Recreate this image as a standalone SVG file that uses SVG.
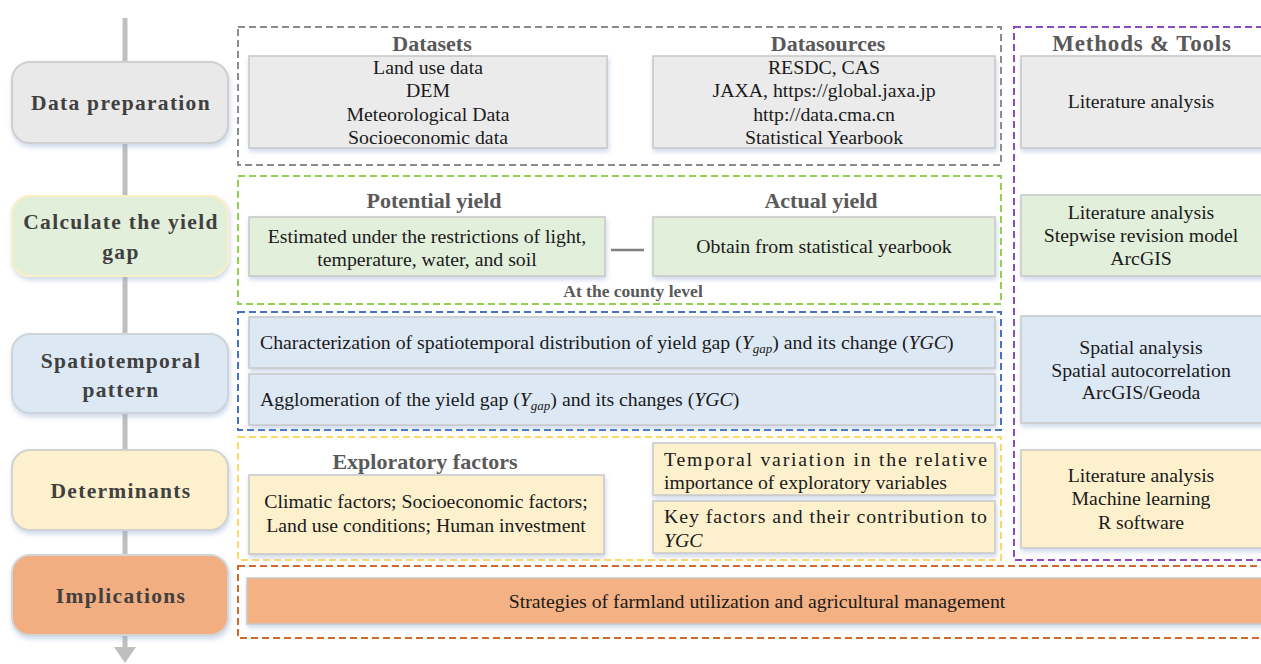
<svg xmlns="http://www.w3.org/2000/svg" width="1261" height="664" viewBox="0 0 1261 664">
<defs>
<filter id="sh" x="-5%" y="-10%" width="110%" height="130%">
<feDropShadow dx="1" dy="3" stdDeviation="2.5" flood-color="#8fa9d0" flood-opacity="0.45"/>
</filter>
<style>
.stage{stroke-width:2;filter:url(#sh)}
.stxt{font-family:"Liberation Serif",serif;font-weight:bold;font-size:21.5px;fill:#404040;letter-spacing:1.3px;text-anchor:middle}
.hdr{font-family:"Liberation Serif",serif;font-weight:bold;font-size:22px;fill:#595959;text-anchor:middle}
.t{font-family:"Liberation Serif",serif;font-size:19.8px;fill:#1a1a1a;text-anchor:middle}
.tl{font-family:"Liberation Serif",serif;font-size:19.8px;fill:#1a1a1a}
.box{stroke:#c8c8c8;stroke-width:1.5;filter:url(#sh)}
.dash{fill:none;stroke-width:2;stroke-dasharray:7 4}
.gray{fill:#ebebeb}.green{fill:#e2efda}.blue{fill:#dde8f5}.yel{fill:#fdf0cd}.org{fill:#f4b183}
</style>
</defs>
<rect width="1261" height="664" fill="#ffffff"/>
<g id="connectors">
<line x1="125" y1="18" x2="125" y2="648" stroke="#bfbfbf" stroke-width="5"/>
<polygon points="114,647 136,647 125,663" fill="#bfbfbf"/>
<line x1="611" y1="250" x2="644" y2="250" stroke="#808080" stroke-width="2.5"/>
</g>
<g id="stage-data">
<rect class="stage" x="12" y="62" width="216" height="81" rx="18" fill="#e9e9e9" stroke="#cfcfcf"/>
<text class="stxt" x="121" y="110">Data preparation</text>
</g>
<g id="stage-gap">
<rect class="stage" x="12" y="196" width="216" height="80" rx="18" fill="#e2efda" stroke="#fbefc4"/>
<text class="stxt" x="121" y="229">Calculate the yield</text>
<text class="stxt" x="121" y="259">gap</text>
</g>
<g id="stage-spatio">
<rect class="stage" x="12" y="334" width="216" height="79" rx="18" fill="#dde8f5" stroke="#cfd3da"/>
<text class="stxt" x="121" y="368">Spatiotemporal</text>
<text class="stxt" x="121" y="397">pattern</text>
</g>
<g id="stage-det">
<rect class="stage" x="12" y="450" width="216" height="80" rx="18" fill="#fdf0cd" stroke="#d2d2d2"/>
<text class="stxt" x="121" y="498">Determinants</text>
</g>
<g id="stage-impl">
<rect class="stage" x="12" y="555" width="216" height="80" rx="18" fill="#f2ae80" stroke="#d4d4d4"/>
<text class="stxt" x="121" y="603">Implications</text>
</g>
<g id="group-data">
<rect class="dash" x="238" y="27" width="763" height="138" stroke="#8c8c8c"/>
<text class="hdr" x="432" y="51">Datasets</text>
<rect class="box gray" x="249" y="56" width="358" height="92"/>
<text class="t" x="428" y="74">Land use data</text>
<text class="t" x="428" y="97">DEM</text>
<text class="t" x="428" y="121">Meteorological Data</text>
<text class="t" x="428" y="144">Socioeconomic data</text>
<text class="hdr" x="828" y="51">Datasources</text>
<rect class="box gray" x="653" y="56" width="342" height="92"/>
<text class="t" x="824" y="74">RESDC, CAS</text>
<text class="t" x="824" y="97">JAXA, https://global.jaxa.jp</text>
<text class="t" x="824" y="121">http://data.cma.cn</text>
<text class="t" x="824" y="144">Statistical Yearbook</text>
</g>
<g id="group-methods">
<rect class="dash" x="1014" y="27" width="260" height="533" stroke="#8a4cc4"/>
<text class="hdr" x="1142" y="51" style="font-size:23px;letter-spacing:0.8px">Methods &amp; Tools</text>
<rect class="box gray" x="1021" y="56" width="250" height="92"/>
<text class="t" x="1141" y="108">Literature analysis</text>
<rect class="box green" x="1021" y="195" width="250" height="81"/>
<text class="t" x="1141" y="219">Literature analysis</text>
<text class="t" x="1141" y="242">Stepwise revision model</text>
<text class="t" x="1141" y="265">ArcGIS</text>
<rect class="box blue" x="1021" y="316" width="250" height="107"/>
<text class="t" x="1141" y="354">Spatial analysis</text>
<text class="t" x="1141" y="377">Spatial autocorrelation</text>
<text class="t" x="1141" y="399">ArcGIS/Geoda</text>
<rect class="box yel" x="1021" y="450" width="250" height="98"/>
<text class="t" x="1141" y="482">Literature analysis</text>
<text class="t" x="1141" y="505">Machine learning</text>
<text class="t" x="1141" y="529">R software</text>
</g>
<g id="group-gap">
<rect class="dash" x="238" y="176" width="763" height="128" stroke="#92d050"/>
<text class="hdr" x="434" y="208">Potential yield</text>
<text class="hdr" x="821" y="208">Actual yield</text>
<rect class="box green" x="249" y="217" width="356" height="59"/>
<text class="t" x="427" y="243">Estimated under the restrictions of light,</text>
<text class="t" x="427" y="266">temperature, water, and soil</text>
<rect class="box green" x="653" y="217" width="342" height="59"/>
<text class="t" x="824" y="253">Obtain from statistical yearbook</text>
<text class="hdr" x="633" y="297" style="font-size:17.5px">At the county level</text>
</g>
<g id="group-spatio">
<rect class="dash" x="238" y="312" width="763" height="118" stroke="#4472c4"/>
<rect class="box blue" x="249" y="317" width="746" height="51"/>
<text class="tl" x="260" y="349">Characterization of spatiotemporal distribution of yield gap (<tspan font-style="italic">Y</tspan><tspan font-style="italic" font-size="13" dy="4">gap</tspan><tspan dy="-4">) and its change (</tspan><tspan font-style="italic">YGC</tspan>)</text>
<rect class="box blue" x="249" y="374" width="746" height="51"/>
<text class="tl" x="260" y="406">Agglomeration of the yield gap (<tspan font-style="italic">Y</tspan><tspan font-style="italic" font-size="13" dy="4">gap</tspan><tspan dy="-4">) and its changes (</tspan><tspan font-style="italic">YGC</tspan>)</text>
</g>
<g id="group-det">
<rect class="dash" x="238" y="437" width="763" height="123" stroke="#ffd966"/>
<text class="hdr" x="425" y="469">Exploratory factors</text>
<rect class="box yel" x="249" y="475" width="355" height="79"/>
<text class="t" x="426" y="508">Climatic factors; Socioeconomic factors;</text>
<text class="t" x="426" y="532">Land use conditions; Human investment</text>
<rect class="box yel" x="653" y="443" width="342" height="52"/>
<text class="tl" x="664" y="466" textLength="323" lengthAdjust="spacing">Temporal variation in the relative</text>
<text class="tl" x="664" y="489">importance of exploratory variables</text>
<rect class="box yel" x="653" y="501" width="342" height="52"/>
<text class="tl" x="664" y="523" textLength="323" lengthAdjust="spacing">Key factors and their contribution to</text>
<text class="tl" x="664" y="547" font-style="italic">YGC</text>
</g>
<g id="group-impl">
<rect class="dash" x="238" y="566" width="1030" height="72" stroke="#d0692a"/>
<rect class="box org" x="247" y="578" width="1024" height="46"/>
<text class="t" x="757" y="608">Strategies of farmland utilization and agricultural management</text>
</g>
</svg>
